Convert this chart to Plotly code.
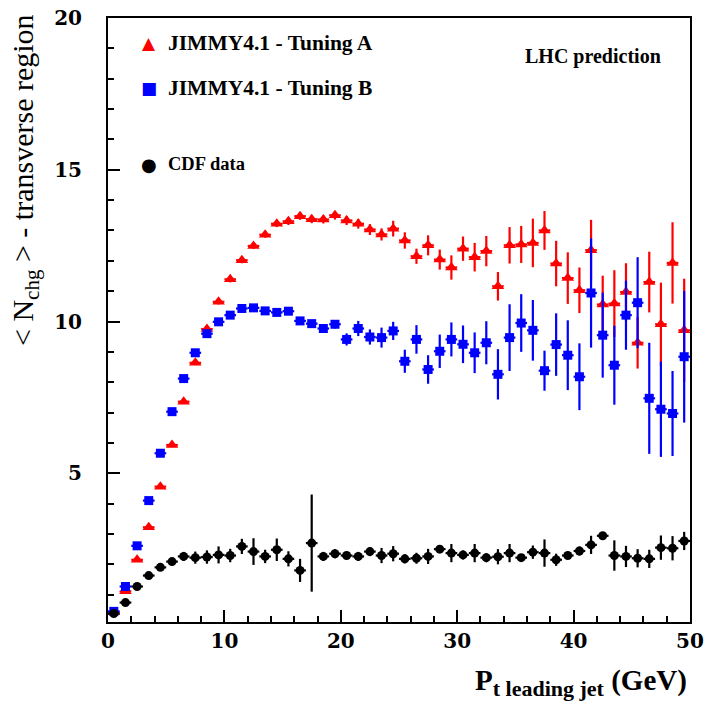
import numpy as np
import plotly.graph_objects as go

# Leading-jet pT bin centres (1 GeV bins, 0-50 GeV)
pt_bins = np.arange(0.5, 50.0, 1.0)

# JIMMY4.1 - Tuning A : <Nchg> in transverse region
tuning_a = [0.42, 1.11, 2.15, 3.22, 4.56, 5.93, 7.36, 8.64, 9.75, 10.65,
            11.39, 12.02, 12.49, 12.86, 13.22, 13.30, 13.47, 13.37, 13.36, 13.50,
            13.33, 13.22, 13.03, 12.87, 13.06, 12.67, 12.15, 12.51, 12.04, 11.78,
            12.40, 12.12, 12.32, 11.16, 12.51, 12.54, 12.59, 13.00, 11.91, 11.43,
            11.03, 12.35, 10.56, 10.59, 10.97, 9.30, 11.30, 9.91, 11.93, 9.71]
tuning_a_err = [0.03, 0.05, 0.06, 0.06, 0.07, 0.07, 0.08, 0.08, 0.09, 0.09,
                0.10, 0.10, 0.10, 0.10, 0.11, 0.12, 0.12, 0.13, 0.13, 0.14,
                0.15, 0.16, 0.18, 0.20, 0.26, 0.27, 0.25, 0.33, 0.33, 0.40,
                0.40, 0.47, 0.50, 0.47, 0.60, 0.61, 0.80, 0.64, 0.75, 0.85,
                0.75, 1.00, 0.95, 1.10, 0.95, 0.85, 1.00, 1.37, 1.34, 1.70]

# JIMMY4.1 - Tuning B
tuning_b = [0.45, 1.27, 2.61, 4.10, 5.66, 7.03, 8.12, 8.97, 9.60, 9.99,
            10.21, 10.43, 10.45, 10.35, 10.30, 10.34, 10.02, 9.93, 9.77, 9.91,
            9.41, 9.77, 9.49, 9.47, 9.69, 8.69, 9.41, 8.42, 9.02, 9.41,
            9.25, 8.97, 9.30, 8.26, 9.47, 9.95, 9.71, 8.38, 9.24, 8.89,
            8.18, 10.94, 9.55, 8.56, 10.21, 10.62, 7.47, 7.11, 6.97, 8.84]
tuning_b_err = [0.03, 0.04, 0.05, 0.05, 0.06, 0.06, 0.07, 0.07, 0.08, 0.08,
                0.08, 0.09, 0.09, 0.10, 0.10, 0.10, 0.11, 0.12, 0.13, 0.14,
                0.20, 0.25, 0.25, 0.33, 0.30, 0.38, 0.47, 0.47, 0.55, 0.56,
                0.62, 0.67, 0.71, 0.83, 1.10, 0.95, 1.00, 0.66, 1.03, 1.15,
                1.10, 1.80, 1.40, 1.30, 1.14, 1.50, 1.83, 1.57, 1.40, 2.17]

# CDF data
cdf = [0.38, 0.74, 1.27, 1.63, 1.90, 2.09, 2.26, 2.22, 2.24, 2.31,
       2.29, 2.59, 2.42, 2.26, 2.48, 2.18, 1.80, 2.70, 2.26, 2.35,
       2.29, 2.26, 2.42, 2.29, 2.35, 2.18, 2.20, 2.26, 2.50, 2.37,
       2.31, 2.37, 2.22, 2.25, 2.37, 2.22, 2.40, 2.37, 2.15, 2.29,
       2.44, 2.64, 2.94, 2.29, 2.26, 2.20, 2.18, 2.55, 2.53, 2.77]
cdf_err = [0.05, 0.08, 0.10, 0.10, 0.10, 0.12, 0.15, 0.20, 0.22, 0.28,
           0.22, 0.25, 0.44, 0.22, 0.37, 0.25, 0.38, 1.60, 0.15, 0.15,
           0.12, 0.15, 0.15, 0.25, 0.25, 0.15, 0.18, 0.25, 0.12, 0.30,
           0.15, 0.30, 0.15, 0.25, 0.30, 0.12, 0.22, 0.45, 0.20, 0.10,
           0.15, 0.30, 0.10, 0.50, 0.35, 0.30, 0.30, 0.40, 0.40, 0.30]

half_bin = [0.5] * len(pt_bins)
SERIF = "Liberation Serif"
DIGITS = "DejaVu Serif"

fig = go.Figure()


def add_series(y, yerr, color, symbol, size):
    fig.add_trace(go.Scatter(
        x=pt_bins, y=y, mode="markers",
        marker=dict(color=color, symbol=symbol, size=size, line=dict(width=0)),
        error_y=dict(type="data", array=yerr, color=color, thickness=2.2, width=0),
        error_x=dict(type="data", array=half_bin, color=color, thickness=2.2, width=0),
        showlegend=False, hoverinfo="x+y",
    ))


add_series(tuning_a, tuning_a_err, "#ff0000", "triangle-up", 11)
add_series(tuning_b, tuning_b_err, "#0000ff", "square", 9)
add_series(cdf, cdf_err, "#000000", "circle", 9)

axis_common = dict(
    showline=True, linecolor="black", linewidth=2, mirror=True,
    ticks="inside", ticklen=12, tickwidth=2, tickcolor="black",
    showgrid=False, zeroline=False, automargin=False,
    tickfont=dict(family=DIGITS, size=20, color="black", weight="bold"),
)

fig.update_xaxes(
    range=[0, 50], tickvals=[0, 10, 20, 30, 40, 50],
    minor=dict(ticks="inside", dtick=2, ticklen=6, tickwidth=2, tickcolor="black"),
    ticklabelstandoff=0,
    **axis_common,
)
fig.update_yaxes(
    range=[0.1, 20], tickvals=[5, 10, 15, 20],
    minor=dict(ticks="inside", dtick=1, ticklen=6, tickwidth=2, tickcolor="black"),
    ticklabelstandoff=20,
    **axis_common,
)

PLOT_W, PLOT_H, LEFT, TOP = 582, 604, 108, 18


def px(x):
    return (x - LEFT) / PLOT_W


def py(y):
    return 1 - (y - TOP) / PLOT_H


# Legend entries
legend_rows = [
    ("▲", "#ff0000", "JIMMY4.1 - Tuning A", 43, 17, 21.5),
    ("■", "#0000ff", "JIMMY4.1 - Tuning B", 88, 17, 21.5),
    ("●", "#000000", "CDF data", 164, 18, 18.5),
]
for sym, col, label, ypix, ssize, tsize in legend_rows:
    fig.add_annotation(xref="paper", yref="paper", x=px(149), y=py(ypix),
                       text=sym, showarrow=False, xanchor="center", yanchor="middle",
                       font=dict(family="DejaVu Sans", size=ssize, color=col))
    fig.add_annotation(xref="paper", yref="paper", x=px(166), y=py(ypix),
                       text="<b>" + label + "</b>", showarrow=False,
                       xanchor="left", yanchor="middle",
                       font=dict(family=SERIF, size=tsize, color="black"))

fig.add_annotation(xref="paper", yref="paper", x=px(663), y=py(57),
                   text="<b>LHC prediction</b>", showarrow=False,
                   xanchor="right", yanchor="middle",
                   font=dict(family=SERIF, size=20, color="black"))

# Axis titles
fig.add_annotation(xref="paper", yref="paper", x=px(689), y=py(662),
                   text="<b>P<sub><span style='font-size:22px'>t leading jet</span></sub> (GeV)</b>",
                   showarrow=False, xanchor="right", yanchor="top",
                   font=dict(family=SERIF, size=29, color="black"))
fig.add_annotation(xref="paper", yref="paper", x=px(25), y=py(12),
                   text="&lt; N<sub>chg</sub> &gt; - transverse region", showarrow=False,
                   textangle=-90, xanchor="center", yanchor="top",
                   font=dict(family=SERIF, size=30, color="black"))

fig.update_layout(
    width=706, height=704,
    margin=dict(l=LEFT, r=16, t=TOP, b=82),
    paper_bgcolor="white", plot_bgcolor="white",
)

fig.write_html("out.html")
